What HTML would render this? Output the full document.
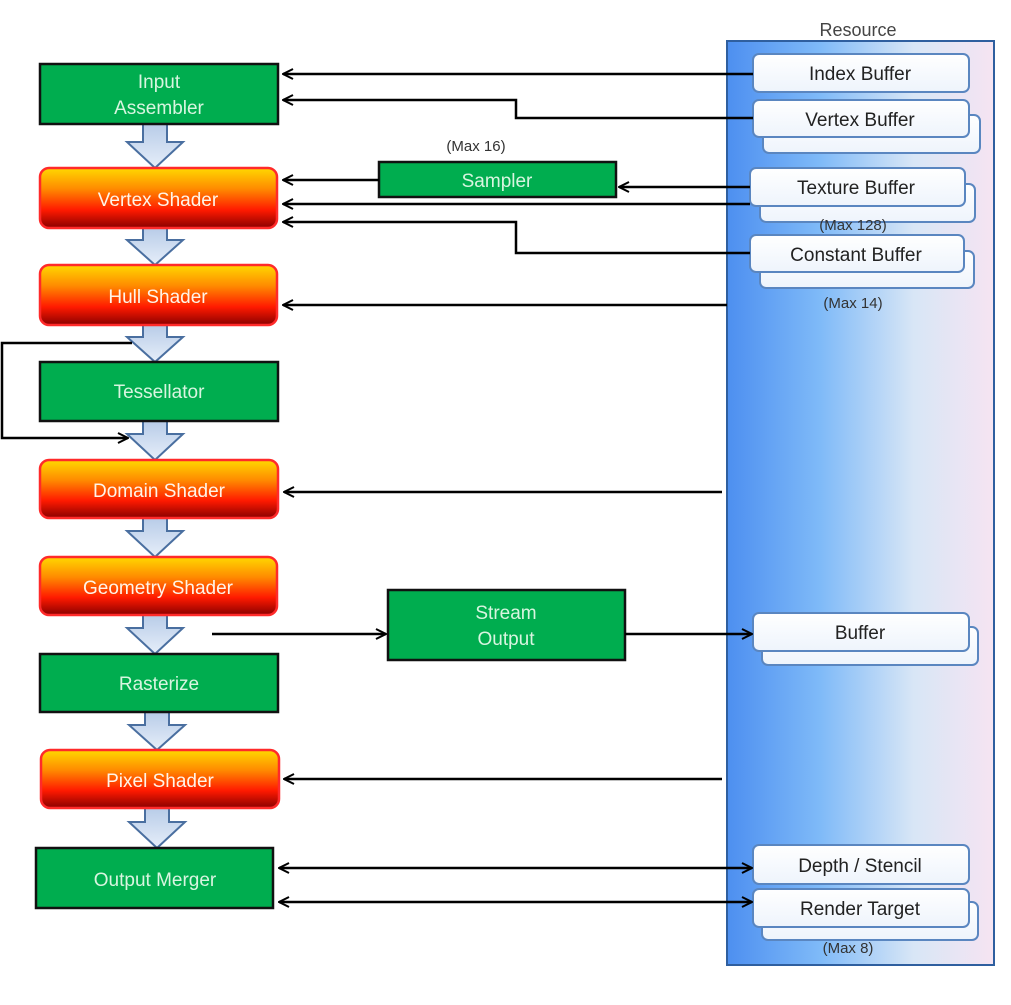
<!DOCTYPE html>
<html><head><meta charset="utf-8"><style>
body{margin:0;background:#fff;}
svg text{font-family:"Liberation Sans",sans-serif;}
</style></head><body>
<svg width="1011" height="1000" viewBox="0 0 1011 1000" xmlns="http://www.w3.org/2000/svg">
<defs>
<linearGradient id="res" x1="0" y1="0" x2="1" y2="0">
<stop offset="0" stop-color="#4d8ff0"/><stop offset="0.35" stop-color="#7fbaf8"/><stop offset="0.7" stop-color="#d8e6f6"/><stop offset="1" stop-color="#f6e4f2"/></linearGradient>
<linearGradient id="sh" x1="0" y1="0" x2="0" y2="1">
<stop offset="0" stop-color="#ffd800"/><stop offset="0.35" stop-color="#ff8a00"/><stop offset="0.7" stop-color="#ff1a00"/><stop offset="1" stop-color="#8a0000"/></linearGradient>
<linearGradient id="ba" x1="0" y1="0" x2="0" y2="1">
<stop offset="0" stop-color="#b8cce8"/><stop offset="1" stop-color="#e6eef9"/></linearGradient>
<linearGradient id="bx" x1="0" y1="0" x2="0" y2="1">
<stop offset="0" stop-color="#ffffff"/><stop offset="1" stop-color="#eef4fc"/></linearGradient>
<marker id="ah" viewBox="0 0 12 12" refX="11" refY="6" markerWidth="12" markerHeight="12" markerUnits="userSpaceOnUse" orient="auto-start-reverse">
<path d="M1,1 L11,6 L1,11" fill="none" stroke="#000" stroke-width="2"/></marker>
</defs>

<!-- Resource panel -->
<text x="858" y="36" font-size="18" fill="#444" text-anchor="middle">Resource</text>
<rect x="727" y="41" width="267" height="924" fill="url(#res)" stroke="#2f5f9f" stroke-width="2"/>

<g stroke="#5a86c0" stroke-width="2" fill="url(#bx)">
<rect x="763" y="115" width="217" height="38" rx="6"/>
<rect x="760" y="184" width="215" height="38" rx="6"/>
<rect x="760" y="251" width="214" height="37" rx="6"/>
<rect x="762" y="627" width="216" height="38" rx="6"/>
<rect x="762" y="902" width="216" height="38" rx="6"/>
<rect x="753" y="54" width="216" height="38" rx="6"/>
<rect x="753" y="100" width="216" height="37" rx="6"/>
<rect x="750" y="168" width="215" height="38" rx="6"/>
<rect x="750" y="235" width="214" height="37" rx="6"/>
<rect x="753" y="613" width="216" height="38" rx="6"/>
<rect x="753" y="845" width="216" height="39" rx="6"/>
<rect x="753" y="889" width="216" height="38" rx="6"/>
</g>
<g font-size="19" fill="#222" text-anchor="middle">
<text x="860" y="80">Index Buffer</text>
<text x="860" y="126">Vertex Buffer</text>
<text x="856" y="194">Texture Buffer</text>
<text x="856" y="261">Constant Buffer</text>
<text x="860" y="639">Buffer</text>
<text x="860" y="872">Depth / Stencil</text>
<text x="860" y="915">Render Target</text>
</g>
<g font-size="15" fill="#333" text-anchor="middle">
<text x="853" y="230">(Max 128)</text>
<text x="853" y="308">(Max 14)</text>
<text x="848" y="953">(Max 8)</text>
<text x="476" y="151">(Max 16)</text>
</g>

<!-- block arrows -->
<g fill="url(#ba)" stroke="#4a6fa0" stroke-width="2">
<path id="b1" d="M143,124 L167,124 L167,142 L183,142 L155,168 L127,142 L143,142 Z"/>
<path d="M143,228 L167,228 L167,240 L183,240 L155,265 L127,240 L143,240 Z"/>
<path d="M143,325 L167,325 L167,337 L183,337 L155,362 L127,337 L143,337 Z"/>
<path d="M143,421 L167,421 L167,434 L183,434 L155,460 L127,434 L143,434 Z"/>
<path d="M143,518 L167,518 L167,531 L183,531 L155,557 L127,531 L143,531 Z"/>
<path d="M143,615 L167,615 L167,628 L183,628 L155,654 L127,628 L143,628 Z"/>
<path d="M145,712 L169,712 L169,725 L185,725 L157,750 L129,725 L145,725 Z"/>
<path d="M145,808 L169,808 L169,822 L185,822 L157,848 L129,822 L145,822 Z"/>
</g>

<!-- green boxes -->
<g fill="#00ad4f" stroke="#111" stroke-width="2.5">
<rect x="40" y="64" width="238" height="60"/>
<rect x="40" y="362" width="238" height="59"/>
<rect x="40" y="654" width="238" height="58"/>
<rect x="36" y="848" width="237" height="60"/>
<rect x="379" y="162" width="237" height="35"/>
<rect x="388" y="590" width="237" height="70"/>
</g>
<!-- shaders -->
<g fill="url(#sh)" stroke="#ff2a2a" stroke-width="2.5">
<rect x="40" y="168" width="237" height="60" rx="9"/>
<rect x="40" y="265" width="237" height="60" rx="9"/>
<rect x="40" y="460" width="238" height="58" rx="9"/>
<rect x="40" y="557" width="237" height="58" rx="9"/>
<rect x="41" y="750" width="238" height="58" rx="9"/>
</g>
<g font-size="19" fill="#d8f5e0" text-anchor="middle">
<text x="159" y="88">Input</text>
<text x="159" y="114">Assembler</text>
<text x="159" y="398">Tessellator</text>
<text x="159" y="690">Rasterize</text>
<text x="155" y="886">Output Merger</text>
<text x="497" y="187">Sampler</text>
<text x="506" y="619">Stream</text>
<text x="506" y="645">Output</text>
</g>
<g font-size="19" fill="#fff4e8" text-anchor="middle">
<text x="158" y="206">Vertex Shader</text>
<text x="158" y="303">Hull Shader</text>
<text x="159" y="497">Domain Shader</text>
<text x="158" y="594">Geometry Shader</text>
<text x="160" y="787">Pixel Shader</text>
</g>

<!-- connectors -->
<g stroke="#000" stroke-width="2.5" fill="none" marker-end="url(#ah)">
<path d="M753,74 L283,74"/>
<path d="M753,118 L516,118 L516,100 L283,100"/>
<path d="M379,180 L283,180"/>
<path d="M750,187 L619,187"/>
<path d="M750,204 L283,204"/>
<path d="M750,253 L516,253 L516,222 L283,222"/>
<path d="M727,305 L283,305"/>
<path d="M722,492 L284,492"/>
<path d="M212,634 L386,634"/>
<path d="M625,634 L752,634"/>
<path d="M722,779 L284,779"/>
<path d="M132,343 L2,343 L2,438 L128,438"/>
<path d="M279,868 L752,868" marker-start="url(#ah)"/>
<path d="M279,902 L752,902" marker-start="url(#ah)"/>
</g>
</svg>
</body></html>
